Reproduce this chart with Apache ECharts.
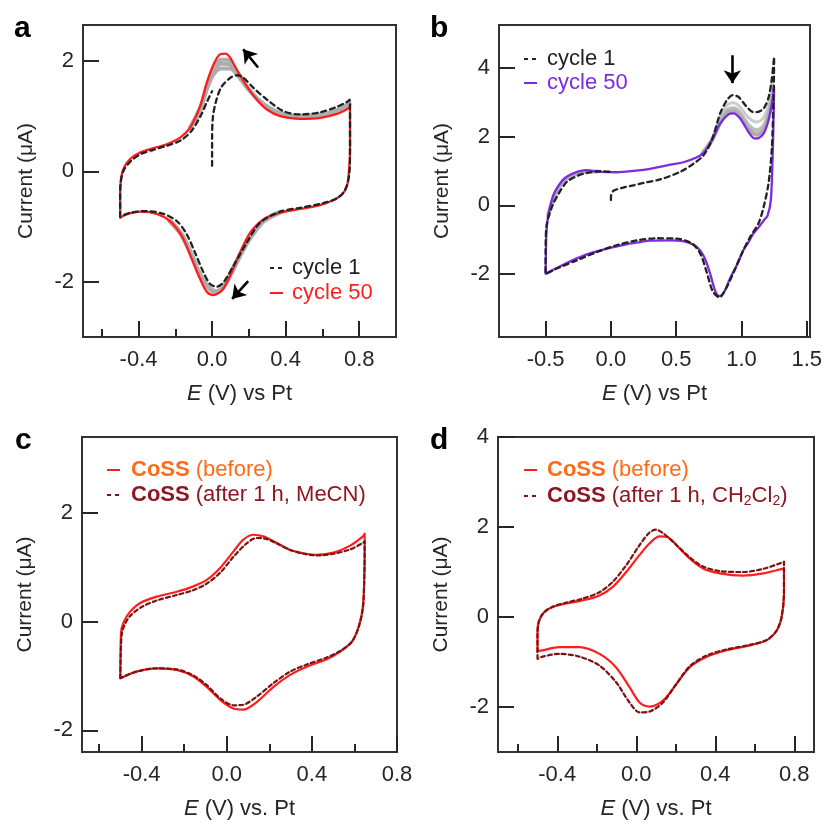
<!DOCTYPE html>
<html lang="en">
<head>
<meta charset="UTF-8">
<title>Cyclic voltammograms</title>
<style>
    html, body { margin: 0; padding: 0; background: #fff; }
    #main { width: 823px; height: 824px; }
</style>
</head>
<body>
<div id="main"></div>
<script src="https://cdn.jsdelivr.net/npm/echarts@6/dist/echarts.min.js"></script>
<script>
    // ---- panel a : E (V), I (uA) ----
    var a_cycle50 = [[-0.500,-0.84],[-0.500,-0.50],[-0.497,-0.19],[-0.483,0.04],[-0.446,0.22],[-0.392,0.34],[-0.319,0.42],[-0.247,0.49],[-0.174,0.61],[-0.120,0.79],[-0.065,1.18],[-0.029,1.60],[0.007,1.93],[0.044,2.12],[0.071,2.13],[0.098,2.06],[0.134,1.84],[0.189,1.54],[0.243,1.30],[0.298,1.12],[0.370,1.00],[0.479,0.95],[0.588,0.97],[0.679,1.04],[0.740,1.14],[0.748,1.17],[0.750,1.05],[0.750,0.40],[0.745,0.04],[0.733,-0.27],[0.706,-0.42],[0.660,-0.52],[0.588,-0.61],[0.479,-0.68],[0.370,-0.75],[0.279,-0.87],[0.207,-1.11],[0.152,-1.47],[0.098,-1.89],[0.053,-2.16],[0.007,-2.24],[-0.029,-2.18],[-0.065,-1.95],[-0.110,-1.59],[-0.165,-1.17],[-0.229,-0.90],[-0.301,-0.77],[-0.392,-0.73],[-0.464,-0.78],[-0.500,-0.84]];
    var a_cycle1 = [[0.000,0.10],[0.000,0.58],[0.005,1.00],[0.024,1.30],[0.051,1.53],[0.098,1.69],[0.134,1.74],[0.165,1.71],[0.225,1.51],[0.298,1.30],[0.388,1.09],[0.479,1.03],[0.588,1.07],[0.679,1.17],[0.740,1.27],[0.748,1.30],[0.750,1.18],[0.750,0.40],[0.747,-0.02],[0.724,-0.33],[0.679,-0.49],[0.588,-0.59],[0.479,-0.66],[0.370,-0.73],[0.261,-0.93],[0.189,-1.29],[0.116,-1.71],[0.062,-2.01],[0.025,-2.09],[-0.011,-2.04],[-0.047,-1.83],[-0.093,-1.47],[-0.138,-1.14],[-0.192,-0.90],[-0.265,-0.77],[-0.356,-0.72],[-0.446,-0.75],[-0.500,-0.82],[-0.500,-0.50],[-0.497,-0.20],[-0.480,0.02],[-0.440,0.19],[-0.390,0.31],[-0.320,0.39],[-0.250,0.46],[-0.170,0.56],[-0.110,0.74],[-0.060,1.02],[-0.025,1.28],[0.000,1.45]];
    var a_grayEarly = [[-0.120,0.78],[-0.065,1.10],[-0.029,1.48],[0.007,1.75],[0.050,1.86],[0.098,1.86],[0.134,1.76],[0.189,1.52],[0.243,1.33],[0.298,1.18],[0.370,1.06],[0.479,1.00],[0.588,1.03],[0.679,1.11],[0.747,1.24]];
    var a_grayLate = [[-0.120,0.79],[-0.065,1.15],[-0.029,1.55],[0.007,1.86],[0.050,2.02],[0.085,2.02],[0.120,1.88],[0.189,1.54],[0.243,1.31],[0.298,1.14],[0.370,1.03],[0.479,0.97],[0.588,0.99],[0.679,1.07],[0.747,1.20]];
    var a_grayMid = [[-0.120,0.78],[-0.065,1.12],[-0.029,1.52],[0.007,1.81],[0.050,1.95],[0.090,1.94],[0.127,1.82],[0.189,1.53],[0.243,1.32],[0.298,1.16],[0.370,1.04],[0.479,0.98],[0.588,1.01],[0.679,1.09],[0.747,1.22]];
    var a_grayCath = [[0.370,-0.74],[0.279,-0.90],[0.207,-1.20],[0.152,-1.52],[0.098,-1.88],[0.060,-2.10],[0.020,-2.18],[-0.020,-2.10],[-0.065,-1.88],[-0.110,-1.53],[-0.165,-1.15],[-0.229,-0.90]];
    var a_arrows = [[[0.250,1.88],[0.169,2.21]], [[0.196,-1.99],[0.109,-2.31]]];

    // ---- panel b ----
    var b_cycle50 = [[-0.500,-1.99],[-0.498,-1.40],[-0.494,-0.82],[-0.482,-0.34],[-0.465,-0.05],[-0.440,0.30],[-0.400,0.58],[-0.350,0.80],[-0.286,0.93],[-0.230,1.00],[-0.184,1.02],[-0.130,0.99],[-0.082,0.97],[0.046,0.96],[0.173,1.00],[0.300,1.06],[0.454,1.18],[0.556,1.25],[0.650,1.38],[0.709,1.52],[0.773,1.89],[0.837,2.37],[0.900,2.64],[0.939,2.67],[0.990,2.52],[1.054,2.13],[1.090,1.96],[1.118,1.94],[1.169,2.08],[1.207,2.47],[1.235,3.00],[1.250,3.42],[1.249,3.10],[1.245,2.40],[1.238,1.30],[1.225,0.15],[1.200,-0.30],[1.169,-0.45],[1.130,-0.65],[1.092,-0.82],[1.050,-1.10],[1.015,-1.30],[0.970,-1.70],[0.913,-2.12],[0.870,-2.50],[0.830,-2.64],[0.800,-2.50],[0.760,-1.99],[0.720,-1.55],[0.680,-1.30],[0.640,-1.16],[0.560,-1.05],[0.450,-1.02],[0.300,-1.03],[0.225,-1.07],[0.100,-1.15],[-0.082,-1.31],[-0.200,-1.45],[-0.350,-1.70],[-0.500,-1.99]];
    var b_cycle1 = [[0.000,0.15],[0.002,0.30],[0.020,0.42],[0.100,0.52],[0.173,0.58],[0.250,0.65],[0.377,0.75],[0.530,0.97],[0.633,1.21],[0.709,1.45],[0.773,1.89],[0.837,2.67],[0.888,3.05],[0.933,3.20],[0.977,3.15],[1.041,2.86],[1.090,2.71],[1.118,2.71],[1.169,2.81],[1.205,3.10],[1.230,3.60],[1.250,4.31],[1.249,3.80],[1.245,3.00],[1.232,1.60],[1.207,0.63],[1.170,-0.05],[1.130,-0.53],[1.067,-0.92],[1.003,-1.40],[0.939,-1.96],[0.875,-2.47],[0.832,-2.68],[0.780,-2.50],[0.735,-1.96],[0.684,-1.40],[0.620,-1.11],[0.505,-0.97],[0.350,-0.96],[0.200,-1.02],[0.046,-1.16],[-0.107,-1.36],[-0.260,-1.60],[-0.414,-1.84],[-0.500,-2.00],[-0.499,-1.02],[-0.490,-0.53],[-0.452,-0.05],[-0.400,0.34],[-0.337,0.68],[-0.260,0.85],[-0.184,0.94],[-0.082,0.99],[0.000,0.97]];
    var b_grayHigh = [[0.700,1.50],[0.773,1.89],[0.837,2.55],[0.888,2.90],[0.939,2.98],[0.990,2.85],[1.054,2.55],[1.118,2.42],[1.169,2.55],[1.207,2.90],[1.240,3.60]];
    var b_grayMid = [[0.700,1.50],[0.773,1.89],[0.837,2.45],[0.888,2.75],[0.939,2.82],[0.990,2.68],[1.054,2.33],[1.118,2.18],[1.169,2.30],[1.207,2.68],[1.240,3.30]];
    var b_grayLow = [[0.700,1.50],[0.773,1.89],[0.837,2.40],[0.888,2.68],[0.939,2.73],[0.990,2.59],[1.054,2.22],[1.118,2.05],[1.169,2.18],[1.207,2.56],[1.240,3.20]];
    var b_grayLeft = [[-0.480,-0.30],[-0.455,0.05],[-0.410,0.45],[-0.350,0.74],[-0.270,0.92],[-0.184,0.99],[-0.100,0.98]];
    var b_arrows = [[[0.930,4.36],[0.930,3.55]]];

    // ---- panel c ----
    var c_before = [[-0.500,-1.04],[-0.499,-0.58],[-0.495,-0.15],[-0.479,0.03],[-0.455,0.18],[-0.408,0.34],[-0.329,0.46],[-0.235,0.55],[-0.157,0.65],[-0.094,0.77],[-0.031,0.99],[0.031,1.29],[0.078,1.51],[0.125,1.60],[0.172,1.57],[0.235,1.45],[0.298,1.32],[0.361,1.26],[0.424,1.23],[0.502,1.27],[0.580,1.40],[0.640,1.57],[0.648,1.62],[0.648,1.40],[0.647,0.95],[0.640,0.28],[0.620,-0.09],[0.588,-0.37],[0.533,-0.55],[0.470,-0.69],[0.376,-0.83],[0.298,-0.98],[0.220,-1.20],[0.141,-1.48],[0.078,-1.62],[0.031,-1.60],[-0.031,-1.44],[-0.094,-1.20],[-0.157,-1.01],[-0.235,-0.89],[-0.329,-0.86],[-0.424,-0.92],[-0.500,-1.04]];
    var c_after = [[-0.500,-1.04],[-0.498,-0.60],[-0.492,-0.20],[-0.475,-0.02],[-0.450,0.12],[-0.400,0.27],[-0.329,0.39],[-0.235,0.49],[-0.157,0.58],[-0.094,0.70],[-0.031,0.90],[0.031,1.19],[0.090,1.43],[0.140,1.54],[0.180,1.53],[0.235,1.44],[0.298,1.32],[0.361,1.25],[0.424,1.22],[0.502,1.25],[0.580,1.33],[0.640,1.45],[0.648,1.48],[0.648,1.30],[0.647,0.90],[0.640,0.26],[0.620,-0.10],[0.588,-0.37],[0.533,-0.54],[0.470,-0.66],[0.376,-0.79],[0.298,-0.92],[0.220,-1.13],[0.141,-1.38],[0.078,-1.53],[0.031,-1.54],[-0.031,-1.41],[-0.094,-1.17],[-0.157,-0.99],[-0.235,-0.88],[-0.329,-0.86],[-0.424,-0.92],[-0.500,-1.04]];

    // ---- panel d ----
    var d_before = [[-0.500,-0.76],[-0.500,-0.30],[-0.491,-0.07],[-0.465,0.11],[-0.423,0.22],[-0.355,0.30],[-0.271,0.37],[-0.186,0.48],[-0.119,0.67],[-0.051,1.00],[0.017,1.38],[0.068,1.64],[0.118,1.79],[0.160,1.77],[0.203,1.60],[0.270,1.30],[0.338,1.08],[0.423,0.97],[0.541,0.92],[0.643,0.97],[0.740,1.07],[0.748,1.08],[0.748,0.90],[0.748,0.52],[0.736,0.00],[0.711,-0.30],[0.660,-0.52],[0.575,-0.63],[0.457,-0.74],[0.355,-0.89],[0.270,-1.12],[0.203,-1.49],[0.135,-1.86],[0.068,-1.99],[0.017,-1.90],[-0.034,-1.56],[-0.102,-1.12],[-0.186,-0.82],[-0.288,-0.67],[-0.390,-0.67],[-0.474,-0.74],[-0.500,-0.76]];
    var d_after = [[-0.500,-0.93],[-0.500,-0.40],[-0.493,-0.10],[-0.468,0.10],[-0.423,0.23],[-0.355,0.32],[-0.271,0.41],[-0.186,0.55],[-0.119,0.78],[-0.051,1.15],[0.017,1.60],[0.068,1.88],[0.100,1.94],[0.140,1.85],[0.203,1.60],[0.270,1.33],[0.338,1.12],[0.423,1.02],[0.541,1.00],[0.643,1.07],[0.740,1.21],[0.748,1.23],[0.748,1.00],[0.748,0.55],[0.736,0.00],[0.711,-0.30],[0.660,-0.51],[0.575,-0.62],[0.457,-0.72],[0.355,-0.86],[0.270,-1.10],[0.203,-1.49],[0.135,-1.90],[0.068,-2.10],[0.017,-2.12],[-0.034,-1.90],[-0.102,-1.45],[-0.186,-1.08],[-0.288,-0.88],[-0.390,-0.82],[-0.474,-0.88],[-0.500,-0.93]];

    // tick values
    var xTicksA = [-0.4, 0, 0.4, 0.8], xMinorA = [-0.6, -0.2, 0.2, 0.6];
    var yTicksA = [-2, 0, 2];
    var xTicksB = [-0.5, 0, 0.5, 1.0, 1.5];
    var yTicksB = [-2, 0, 2, 4];
    var xTicksC = [-0.4, 0, 0.4, 0.8], xMinorC = [-0.6, -0.2, 0.2, 0.6];
    var yTicksC = [-2, 0, 2];
    var xTicksD = [-0.4, 0, 0.4, 0.8], xMinorD = [-0.6, -0.2, 0.2, 0.6];
    var yTicksD = [-2, 0, 2, 4];

    var FONT = 'Liberation Sans, Arial, Helvetica, sans-serif';
    var INK = '#262626';
    var RED = '#FF1E1E', PURPLE = '#7B2BE0', DARKRED = '#7E1212', GRAY = '#adadad';

    function xAxes(p, min, max, ticks, minors, title) {
        return [{
            type: 'value', gridIndex: p, min: min, max: max, position: 'bottom',
            axisLine: {show: false, onZero: false}, splitLine: {show: false},
            axisTick: {inside: true, length: 16, lineStyle: {color: INK, width: 2}, customValues: ticks},
            axisLabel: {customValues: ticks, margin: 12, fontSize: 22, color: INK, fontFamily: FONT,
                formatter: function (v) { return v.toFixed(1); }},
            name: title, nameLocation: 'middle', nameGap: 46,
            nameTextStyle: {fontSize: 22, color: INK, fontFamily: FONT,
                rich: {i: {fontStyle: 'italic', fontSize: 22, color: INK, fontFamily: FONT}}}
        }, {
            type: 'value', gridIndex: p, min: min, max: max, position: 'bottom',
            axisLine: {show: false, onZero: false}, splitLine: {show: false}, axisLabel: {show: false},
            axisTick: {show: minors.length > 0, inside: true, length: 8, lineStyle: {color: INK, width: 2},
                customValues: minors.length ? minors : [0]}
        }];
    }

    function yAxis(p, min, max, ticks) {
        return {
            type: 'value', gridIndex: p, min: min, max: max, position: 'left',
            axisLine: {show: false, onZero: false}, splitLine: {show: false},
            axisTick: {inside: true, length: 16, lineStyle: {color: INK, width: 2}, customValues: ticks},
            axisLabel: {customValues: ticks, margin: 9, fontSize: 22, color: INK, fontFamily: FONT,
                formatter: function (v) { return String(Math.round(v)); }},
            name: 'Current (μA)', nameLocation: 'middle', nameGap: 46,
            nameTextStyle: {fontSize: 21, color: INK, fontFamily: FONT}
        };
    }

    function curve(p, data, color, width, dash, z) {
        return {
            type: 'line', xAxisIndex: 2 * p, yAxisIndex: p, data: data,
            showSymbol: false, smooth: 0.3, z: z,
            lineStyle: {color: color, width: width, type: dash || 'solid', cap: 'round', join: 'round'}
        };
    }

    function arrows(p, list) {
        return {
            type: 'line', xAxisIndex: 2 * p, yAxisIndex: p, data: [], z: 10,
            markLine: {
                silent: true, symbol: ['none', 'arrow'], symbolSize: 13,
                label: {show: false},
                lineStyle: {color: '#000', width: 2.6, type: 'solid'},
                data: list.map(function (a) { return [{coord: a[0]}, {coord: a[1]}]; })
            }
        };
    }

    var grids = [
        {left: 83, top: 25, width: 313, height: 312},
        {left: 499, top: 25, width: 311, height: 312},
        {left: 82, top: 437, width: 315, height: 315},
        {left: 498, top: 437, width: 316, height: 315}
    ].map(function (g) {
        g.show = true; g.borderColor = '#333'; g.borderWidth = 2;
        g.backgroundColor = 'transparent'; g.outerBoundsMode = 'none'; g.containLabel = false;
        return g;
    });

    var xAxisList = []
        .concat(xAxes(0, -0.702, 1.0, xTicksA, xMinorA, '{i|E} (V) vs Pt'))
        .concat(xAxes(1, -0.857, 1.525, xTicksB, [], '{i|E} (V) vs Pt'))
        .concat(xAxes(2, -0.68, 0.80, xTicksC, xMinorC, '{i|E} (V) vs. Pt'))
        .concat(xAxes(3, -0.70, 0.90, xTicksD, xMinorD, '{i|E} (V) vs. Pt'));

    var yAxisList = [
        yAxis(0, -3.0, 2.65, yTicksA),
        yAxis(1, -3.83, 5.24, yTicksB),
        yAxis(2, -2.40, 3.40, yTicksC),
        yAxis(3, -3.0, 4.0, yTicksD)
    ];

    var dash1 = [5, 4], dash2 = [4, 3];
    var seriesList = [
        curve(0, a_grayEarly, GRAY, 4, null, 1),
        curve(0, a_grayMid, GRAY, 4, null, 1),
        curve(0, a_grayLate, GRAY, 4, null, 1),
        curve(0, a_grayCath, GRAY, 5, null, 1),
        curve(0, a_cycle50, RED, 2.3, null, 2),
        curve(0, a_cycle1, '#222', 2.3, dash1, 3),
        arrows(0, a_arrows),

        curve(1, b_grayHigh, '#cccccc', 3, null, 1),
        curve(1, b_grayMid, '#bdbdbd', 4, null, 1),
        curve(1, b_grayLow, GRAY, 4, null, 1),
        curve(1, b_grayLeft, GRAY, 4, null, 1),
        curve(1, b_cycle50, PURPLE, 2.3, null, 2),
        curve(1, b_cycle1, '#222', 2.3, dash1, 3),
        arrows(1, b_arrows),

        curve(2, c_before, RED, 2.2, null, 2),
        curve(2, c_after, DARKRED, 2.2, dash2, 3),

        curve(3, d_before, RED, 2.2, null, 2),
        curve(3, d_after, DARKRED, 2.2, dash2, 3)
    ];

    // legends & panel letters
    function letter(x, y, t) {
        return {type: 'text', style: {x: x, y: y, text: t, fill: '#000', fontSize: 30, fontWeight: 'bold',
            fontFamily: FONT, verticalAlign: 'middle'}};
    }
    function key(x, y, color, dash) {
        return {type: 'line', shape: {x1: x, y1: y, x2: x + 13, y2: y},
            style: {stroke: color, lineWidth: 2, lineDash: dash || null}};
    }
    function label(x, y, text, color, rich) {
        return {type: 'text', style: {x: x, y: y, text: text, fill: color, fontSize: 22, fontFamily: FONT,
            verticalAlign: 'middle', rich: rich || {}}};
    }
    function cossRich(col) {
        return {
            b: {fontWeight: 'bold', fontSize: 22, fontFamily: FONT, fill: col},
            n: {fontSize: 22, fontFamily: FONT, fill: col},
            s: {fontSize: 14, fontFamily: FONT, fill: col, padding: [11, 0, 0, 0]}
        };
    }
    var ORANGE = '#FF6A17', MAROON = '#8F1520';

    var graphics = [
        letter(14, 29, 'a'), letter(430, 29, 'b'), letter(15, 441, 'c'), letter(430, 441, 'd'),

        key(270, 268, '#222', [4, 4]), label(292, 268, 'cycle 1', '#222'),
        key(270, 293, RED), label(292, 293, 'cycle 50', RED),

        key(524, 59, '#222', [4, 4]), label(547, 59, 'cycle 1', '#222'),
        key(524, 83, PURPLE), label(547, 83, 'cycle 50', PURPLE),

        key(107, 470, RED), label(131, 470, '{b|CoSS}{n| (before)}', ORANGE, cossRich(ORANGE)),
        key(107, 495, DARKRED, [4, 4]), label(131, 495, '{b|CoSS}{n| (after 1 h, MeCN)}', MAROON, cossRich(MAROON)),

        key(524, 470, RED), label(547, 470, '{b|CoSS}{n| (before)}', ORANGE, cossRich(ORANGE)),
        key(524, 496, DARKRED, [4, 4]),
        label(547, 496, '{b|CoSS}{n| (after 1 h, CH}{s|2}{n|Cl}{s|2}{n|)}', MAROON, cossRich(MAROON))
    ];

    var chart = echarts.init(document.getElementById('main'), null, {renderer: 'canvas'});
    var option = {
        animation: false,
        backgroundColor: '#fff',
        textStyle: {fontFamily: FONT},
        grid: grids,
        xAxis: xAxisList,
        yAxis: yAxisList,
        series: seriesList,
        graphic: graphics
    };
    chart.setOption(option);
</script>
</body>
</html>
